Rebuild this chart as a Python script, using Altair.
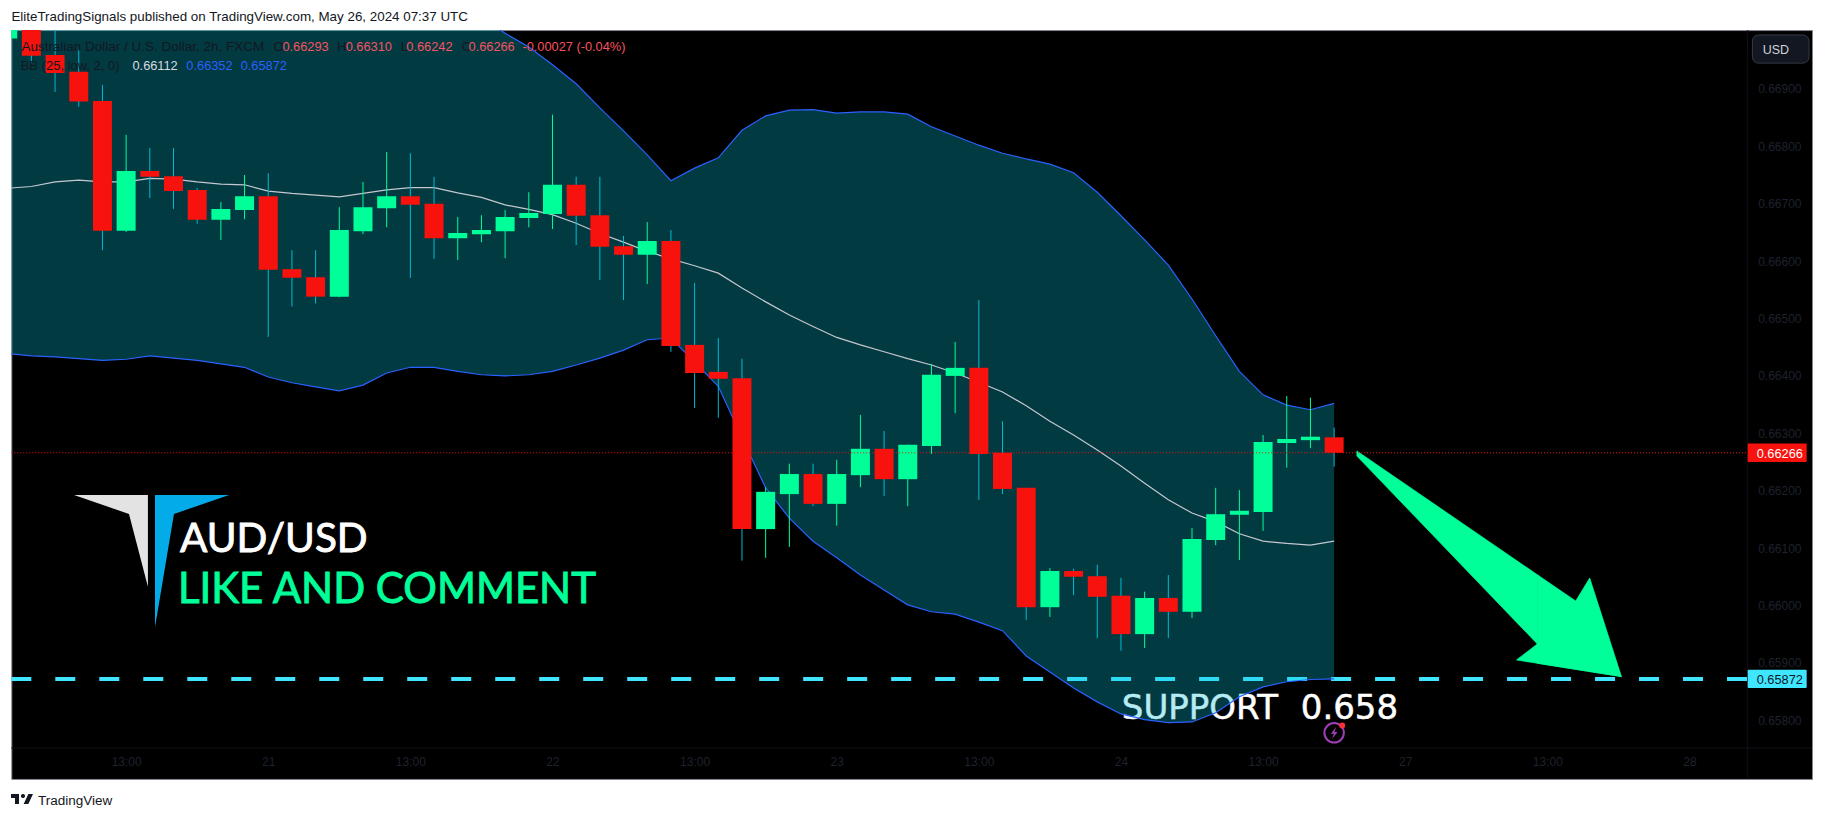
import altair as alt
import pandas as pd

bar_index = list(range(-1, 56))
opens = [.66988,.67040,.66959,.66930,.66879,.66653,.66757,.66748,.66724,.66672,.66689,.66713,.66586,.66572,.66538,.66652,.66692,.66713,.66700,.66640,.66647,.66652,.66675,.66682,.66733,.66680,.66626,.66611,.66635,.66454,.66407,.66396,.66133,.66194,.66229,.66177,.66227,.66273,.66220,.66278,.66400,.66414,.66266,.66205,.65997,.66060,.66051,.66017,.65950,.66013,.65989,.66114,.66158,.66163,.66283,.66288,.66293]
highs = [.67030,.67050,.67010,.66968,.66907,.66820,.66797,.66797,.66727,.66703,.66750,.66753,.66619,.66619,.66694,.66738,.66790,.66788,.66747,.66677,.66680,.66689,.66720,.66855,.66747,.66747,.66644,.66668,.66654,.66562,.66466,.66430,.66206,.66247,.66247,.66254,.66332,.66304,.66280,.66421,.66459,.66532,.66321,.66205,.66065,.66064,.66071,.66048,.66024,.66053,.66135,.66205,.66201,.66297,.66365,.66362,.66310]
lows = [.66988,.66945,.66895,.66869,.66619,.66651,.66710,.66691,.66665,.66637,.66673,.66468,.66521,.66526,.66537,.66647,.66659,.66571,.66604,.66602,.66633,.66605,.66659,.66656,.66628,.66567,.66532,.66560,.66442,.66344,.66327,.66078,.66083,.66102,.66173,.66139,.66206,.66191,.66173,.66264,.66335,.66184,.66194,.65975,.65980,.66018,.65943,.65921,.65926,.65943,.65978,.66105,.66079,.66130,.66240,.66274,.66242]
closes = [.67006,.66958,.66928,.66878,.66653,.66757,.66747,.66722,.66672,.66691,.66713,.66585,.66571,.66538,.66654,.66694,.66713,.66698,.66640,.66649,.66654,.66677,.66684,.66733,.66679,.66625,.66611,.66635,.66452,.66405,.66395,.66133,.66198,.66229,.66177,.66229,.66273,.66220,.66280,.66402,.66414,.66264,.66203,.65997,.66060,.66050,.66015,.65950,.66013,.65989,.66116,.66159,.66165,.66285,.66290,.66294,.66266]
bb_upper = [.67100]*20 + [.67025,.66997,.66973,.66942,.66909,.66867,.66827,.66785,.66740,.66762,.66780,.66828,.66853,.66863,.66864,.66858,.66860,.66860,.66856,.66834,.66818,.66802,.66788,.66778,.66769,.66754,.66720,.66679,.66637,.66593,.66534,.66470,.66408,.66367,.66349,.66341,.66352]
bb_middle = [.66727,.66730,.66738,.66741,.66738,.66738,.66744,.66743,.66738,.66734,.66733,.66722,.66718,.66715,.66712,.66718,.66724,.66728,.66728,.66719,.66711,.66698,.66690,.66681,.66666,.66648,.66633,.66617,.66604,.66592,.66579,.66553,.66529,.66506,.66486,.66467,.66454,.66442,.66430,.66419,.66405,.66389,.66372,.66348,.66321,.66297,.66271,.66243,.66213,.66184,.66161,.66146,.66125,.66112,.66108,.66105,.66112]
bb_lower = [.66439,.66435,.66433,.66430,.66427,.66429,.66435,.66431,.66427,.66421,.66415,.66398,.66388,.66381,.66374,.66384,.66405,.66415,.66415,.66408,.66402,.66400,.66402,.66408,.66419,.66431,.66445,.66463,.66466,.66424,.66382,.66292,.66205,.66152,.66112,.66083,.66053,.66027,.66001,.65989,.65985,.65971,.65956,.65912,.65884,.65856,.65832,.65811,.65801,.65796,.65797,.65813,.65841,.65858,.65867,.65871,.65872]

price_ticks = [.669,.668,.667,.666,.665,.664,.663,.662,.661,.660,.659,.658]
time_ticks = [4,10,16,22,28,34,40,46,52,58,64,70]
time_labels = ["13:00","21","13:00","22","13:00","23","13:00","24","13:00","27","13:00","28"]
last_price = .66266
support_price = .65872

# annotation shapes, in bar index and price
arrow_x = [55.96,63.58,63.58,65.20,65.79,67.13,62.70,63.58,67.13]
arrow_top = [.662692,.660535,.660535,.660078,.660479,.65876,.65905,.659329,.65876]
arrow_bot = [.662605,.659329,.658993,.658887,.658849,.65876,.65905,.658993,.65876]
arrow_part = ["shaft","shaft","head","head","head","head","barb","barb","barb"]
logo_x = [1.80,4.12,4.92,5.22,6.02,8.35]
logo_top = [.661925]*6
logo_bot = [.661925,.661594,.660328,.659625,.661594,.661925]
logo_part = ["white","white","white","blue","blue","blue"]

X_DOM = [-0.848, 75.175]
Y_DOM = [.656977, .670026]
AXIS_X = 72.46
DIM = "#1e222d"
UP, DOWN, WICK_DN = "#00ff99", "#f7120d", "#00bcd4"
FONT = "Liberation Sans"

xs = alt.Scale(domain=X_DOM, nice=False, zero=False, padding=0)
ys = alt.Scale(domain=Y_DOM, nice=False, zero=False, padding=0)
x_axis = alt.Axis(orient="bottom", values=time_ticks, offset=-31,
                  labelExpr=str(time_labels) + "[(datum.value-4)/6]", grid=False,
                  domain=False, ticks=False, labelPadding=9, labelColor=DIM,
                  labelFont=FONT, labelFontSize=12, labelOverlap=False, labelFlush=False)
y_axis = alt.Axis(orient="right", values=price_ticks, format=".5f", grid=False, domain=False,
                  ticks=False, labelAlign="right", labelPadding=-11, labelColor=DIM,
                  labelFont=FONT, labelFontSize=12, labelOverlap=False, labelFlush=False,
                  labelBaseline="middle")
X = lambda f: alt.X(f, type="quantitative", scale=xs, title=None, axis=x_axis)
Y = lambda f: alt.Y(f, type="quantitative", scale=ys, title=None, axis=y_axis)

bars = pd.DataFrame(dict(i=bar_index, o=opens, h=highs, l=lows, c=closes,
                         u=bb_upper, m=bb_middle, b=bb_lower))
arrow = pd.DataFrame(dict(x=arrow_x, t=arrow_top, b=arrow_bot, p=arrow_part))
logo = pd.DataFrame(dict(x=logo_x, t=logo_top, b=logo_bot, p=logo_part))


def label(text, px, py, color, size, font=FONT, embolden=0):
    return alt.Chart(pd.DataFrame({"t": [text]})).mark_text(
        align="left", baseline="middle", color=color, fontSize=size, font=font,
        stroke=color, strokeWidth=embolden,
    ).encode(x=alt.value(px - 11.3), y=alt.value(py - 30), text="t:N")


def one(**k):
    return alt.Chart(pd.DataFrame({key: [v] for key, v in k.items()}))


layers = []

# separators of the price and time scales
layers.append(one(x=AXIS_X, y=Y_DOM[1], y0=Y_DOM[0]).mark_rule(color="#101218", strokeWidth=1).encode(
    x=X("x:Q"), y=Y("y:Q"), y2="y0:Q"))
layers.append(one(x0=X_DOM[0], x1=X_DOM[1], y=.657517).mark_rule(color="#101218", strokeWidth=1).encode(
    x=X("x0:Q"), x2="x1:Q", y=Y("y:Q")))

# green arrow and logo
layers.append(alt.Chart(arrow).mark_area(color=UP, opacity=1, stroke=UP, strokeWidth=0.7, clip=True).encode(
    x=X("x:Q"), y=Y("t:Q"), y2="b:Q", detail="p:N"))
layers.append(alt.Chart(logo[logo.p == "white"]).mark_area(color="#e3e3e3", clip=True).encode(
    x=X("x:Q"), y=Y("t:Q"), y2="b:Q"))
layers.append(alt.Chart(logo[logo.p == "blue"]).mark_area(color="#03abe8", clip=True).encode(
    x=X("x:Q"), y=Y("t:Q"), y2="b:Q"))
layers.append(label("AUD/USD", 180, 540, "#ffffff", 40.5, font="Lato", embolden=0.9))
layers.append(label("LIKE AND COMMENT", 178, 590, UP, 42, font="Lato", embolden=0.9))

# support line and text sit below the translucent band
layers.append(one(x0=X_DOM[0], x1=AXIS_X, y=support_price).mark_rule(
    color="#40e6ff", strokeWidth=4, strokeDash=[20, 24]).encode(
    x=X("x0:Q"), x2="x1:Q", y=Y("y:Q")))
layers.append(label("SUPPORT", 1122, 709, "#ffffff", 34, font="DejaVu Sans", embolden=0.5))
layers.append(label("0.658", 1301, 709, "#ffffff", 34, font="DejaVu Sans", embolden=0.5))

# Bollinger band
layers.append(alt.Chart(bars).mark_area(color="#06c1dc", opacity=0.3, clip=True).encode(
    x=X("i:Q"), y=Y("u:Q"), y2="b:Q"))
for col, colr in (("m", "#c4c7ce"), ("u", "#2962ff"), ("b", "#2962ff")):
    layers.append(alt.Chart(bars).mark_line(color=colr, strokeWidth=1.2, clip=True).encode(
        x=X("i:Q"), y=Y(col + ":Q")))

# candles
color = alt.condition("datum.c >= datum.o", alt.value(UP), alt.value(WICK_DN))
layers.append(alt.Chart(bars).mark_rule(strokeWidth=1, clip=True).encode(
    x=X("i:Q"), y=Y("h:Q"), y2="l:Q", color=color))
color_b = alt.condition("datum.c >= datum.o", alt.value(UP), alt.value(DOWN))
layers.append(alt.Chart(bars).mark_bar(size=19, clip=True).encode(
    x=X("i:Q"), y=Y("o:Q"), y2="c:Q", color=color_b))

# last price line
layers.append(one(x0=X_DOM[0], x1=AXIS_X, y=last_price).mark_rule(
    color="#f7120d", strokeWidth=1, strokeDash=[1, 2]).encode(
    x=X("x0:Q"), x2="x1:Q", y=Y("y:Q")))

# price tags and currency badge
layers.append(one(x0=AXIS_X, x1=74.95, y0=.66250, y1=.66282).mark_rect(color="#f7120d", cornerRadius=1).encode(
    x=X("x0:Q"), x2="x1:Q", y=Y("y0:Q"), y2="y1:Q"))
layers.append(one(x0=AXIS_X, x1=74.95, y0=.65856, y1=.65888).mark_rect(color="#40e6ff", cornerRadius=1).encode(
    x=X("x0:Q"), x2="x1:Q", y=Y("y0:Q"), y2="y1:Q"))
layers.append(one(x0=72.66, x1=75.05, y0=.66945, y1=.66994).mark_rect(
    fill="#131722", stroke="#363a45", strokeWidth=1, cornerRadius=6).encode(
    x=X("x0:Q"), x2="x1:Q", y=Y("y0:Q"), y2="y1:Q"))
layers.append(label("USD", 1763, 49.5, "#d1d4dc", 12.5))
layers.append(label("0.66266", 1757, 454, "#ffffff", 12.8))
layers.append(label("0.65872", 1757, 680, "#131722", 12.8))

# snapshot icon
layers.append(one(x=55.0, y=.65778).mark_point(size=380, stroke="#9c3fb5", strokeWidth=2, filled=False, opacity=1).encode(
    x=X("x:Q"), y=Y("y:Q")))
layers.append(one(x=55.0, y=.65778).mark_point(size=150, filled=True, color="#9c3fb5", opacity=1,
    shape="M.35,-1L-.55,.15H-.05L-.35,1L.55,-.15H.05Z").encode(
    x=X("x:Q"), y=Y("y:Q")))
layers.append(one(x=55.34, y=.65791).mark_circle(size=36, color="#f7303a", opacity=1).encode(
    x=X("x:Q"), y=Y("y:Q")))

# legend header
HEAD = "#131722"
RED = "#f7525f"
for text, px, py, colr, sz in [
    ("Australian Dollar / U.S. Dollar, 2h, FXCM", 21.4, 47, HEAD, 13.5),
    ("O", 273.6, 47, HEAD, 13), ("0.66293", 282.5, 47, RED, 12.8),
    ("H", 337, 47, HEAD, 13), ("0.66310", 345.7, 47, RED, 12.8),
    ("L", 400.7, 47, HEAD, 13), ("0.66242", 406.4, 47, RED, 12.8),
    ("C", 461.8, 47, HEAD, 13), ("0.66266", 468.6, 47, RED, 12.8),
    ("-0.00027 (-0.04%)", 522.5, 47, RED, 12.8),
    ("BB (25, low, 2, 0)", 20.7, 66, HEAD, 13),
    ("0.66112", 132.5, 66, "#d8dbe0", 12.8),
    ("0.66352", 186.4, 66, "#2962ff", 12.8),
    ("0.65872", 240.7, 66, "#2962ff", 12.8),
]:
    layers.append(label(text, px, py, colr, sz))

# page furniture outside the panel
layers.append(label("EliteTradingSignals published on TradingView.com, May 26, 2024 07:37 UTC", 11.4, 17.3, "#131722", 13.4))
layers.append(label("TradingView", 38, 800.7, "#131722", 13.5))
layers.append(alt.Chart(pd.DataFrame({"k": [1]})).mark_point(
    size=484, filled=True, color="#131722", opacity=1,
    shape="M-1,-.4545H-.273V.4545H-.636V-.091H-1Z M.576,.4545H.1515L.576,-.4545H1Z M.091,-.091A.182,.182 0 1 0 .091,-.4545A.182,.182 0 1 0 .091,-.091Z"
).encode(x=alt.value(22 - 11.3), y=alt.value(799 - 30)))

chart = alt.layer(*layers).properties(
    width=1801, height=749,
    autosize=alt.AutoSizeParams(type="none"),
    padding={"left": 3.3, "top": 22, "right": 4, "bottom": 30},
    background="#ffffff",
).configure_view(fill="#000000", stroke="#83868f", strokeWidth=1)

chart.save("out.html", embed_options={"renderer": "svg", "actions": False})
